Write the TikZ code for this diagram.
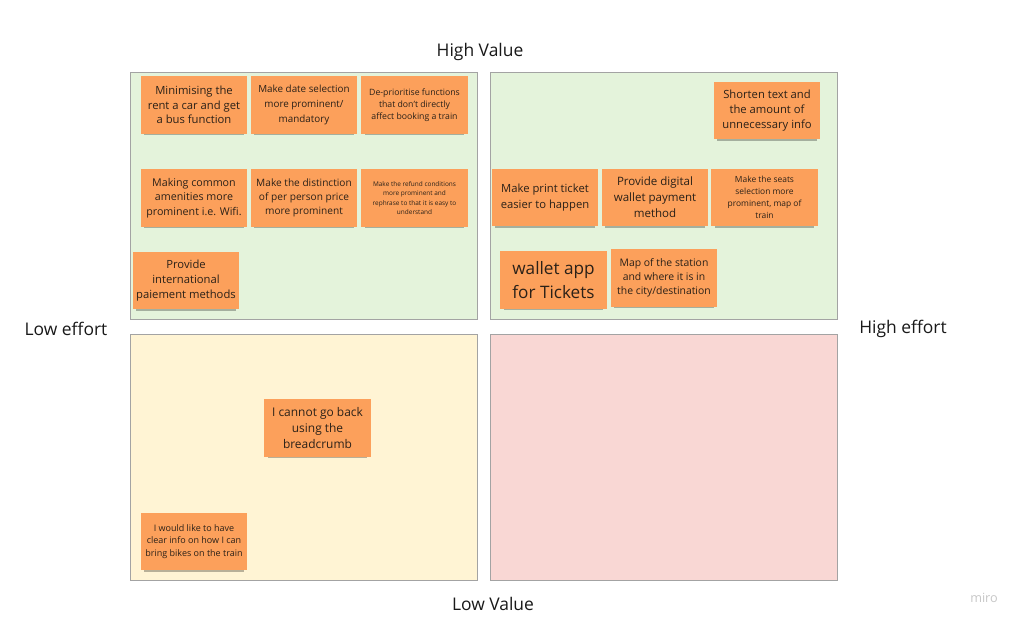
\documentclass[tikz,border=0pt]{standalone}
\usepackage{fontspec}
\setmainfont{Open Sans}
\usetikzlibrary{shadows}
\definecolor{notecol}{HTML}{FCA05B}
\definecolor{notetext}{HTML}{2B2118}
\definecolor{greenq}{HTML}{E4F3DB}
\definecolor{yellowq}{HTML}{FFF4D4}
\definecolor{pinkq}{HTML}{F9D7D4}
\definecolor{edgeq}{HTML}{A3A3A3}
\tikzset{
	quadrant/.style={draw=edgeq,line width=0.6pt},
	sticky/.style={fill=notecol,text=notetext,minimum width=2.65cm,minimum height=1.43cm,
		align=center,inner sep=0pt,
		drop shadow={shadow xshift=0pt,shadow yshift=-2.6pt,shadow scale=0.94,opacity=0.28,fill=black}},
	axislabel/.style={font=\fontsize{12.4}{15}\selectfont,text=black!90}
}
\begin{document}
\begin{tikzpicture}[x=0.025cm,y=-0.025cm]
	\useasboundingbox[fill=white] (0,0) rectangle (1024,626);
	% quadrants
	\draw[quadrant,fill=greenq] (130,72) rectangle (477,319);
	\draw[quadrant,fill=greenq] (490,72) rectangle (837,319);
	\draw[quadrant,fill=yellowq] (130,334) rectangle (477,580);
	\draw[quadrant,fill=pinkq] (490,334) rectangle (837,580);
	% axis labels
	\node[axislabel] (highvalue) at (480,52) {High Value};
	\node[axislabel] (lowvalue) at (493,604) {Low Value};
	\node[axislabel] (loweffort) at (66,329) {Low effort};
	\node[axislabel] (higheffort) at (903,329) {High effort};
	\node[font=\fontsize{9}{10}\selectfont,text=black!22] (logo) at (984,598) {miro};
	% high value, low effort
	\node[sticky,font=\fontsize{8}{10.4}\selectfont] (rentcar) at (194,105) {Minimising the\\rent a car and get\\a bus function};
	\node[sticky,font=\fontsize{7}{10.4}\selectfont] (dateselect) at (304,105) {Make date selection\\more prominent/\\mandatory};
	\node[sticky,font=\fontsize{6.2}{8.6}\selectfont] (deprioritise) at (414.5,105) {De-prioritise functions\\that don't directly\\affect booking a train};
	\node[sticky,font=\fontsize{7.6}{10.2}\selectfont] (amenities) at (194,198) {Making common\\amenities more\\prominent i.e. Wifi.};
	\node[sticky,font=\fontsize{7.2}{10.2}\selectfont] (perperson) at (304,198) {Make the distinction\\of per person price\\more prominent};
	\node[sticky,font=\fontsize{4.6}{6.8}\selectfont] (refund) at (414.5,198) {Make the refund conditions\\more prominent and\\rephrase to that it is easy to\\understand};
	\node[sticky,font=\fontsize{8}{10.4}\selectfont] (paiement) at (186,280.5) {Provide\\international\\paiement methods};
	% high value, high effort
	\node[sticky,font=\fontsize{8}{10.8}\selectfont] (shorten) at (767,110.5) {Shorten text and\\the amount of\\unnecessary info};
	\node[sticky,font=\fontsize{8}{11.8}\selectfont] (printticket) at (545,197.5) {Make print ticket\\easier to happen};
	\node[sticky,font=\fontsize{8.2}{11.4}\selectfont] (digitalwallet) at (655,197.5) {Provide digital\\wallet payment\\method};
	\node[sticky,font=\fontsize{6}{8.5}\selectfont] (seats) at (764.5,197.5) {Make the seats\\selection more\\prominent, map of\\train};
	\node[sticky,font=\fontsize{12.2}{16.5}\selectfont] (walletapp) at (553.5,280) {wallet app\\for Tickets};
	\node[sticky,font=\fontsize{7.4}{10}\selectfont] (stationmap) at (664,278) {Map of the station\\and where it is in\\the city/destination};
	% low value, low effort
	\node[sticky,font=\fontsize{8.5}{11.6}\selectfont] (breadcrumb) at (317.5,428) {I cannot go back\\using the\\breadcrumb};
	\node[sticky,font=\fontsize{6.4}{9.1}\selectfont] (bikes) at (194,541.5) {I would like to have\\clear info on how I can\\bring bikes on the train};
\end{tikzpicture}
\end{document}
